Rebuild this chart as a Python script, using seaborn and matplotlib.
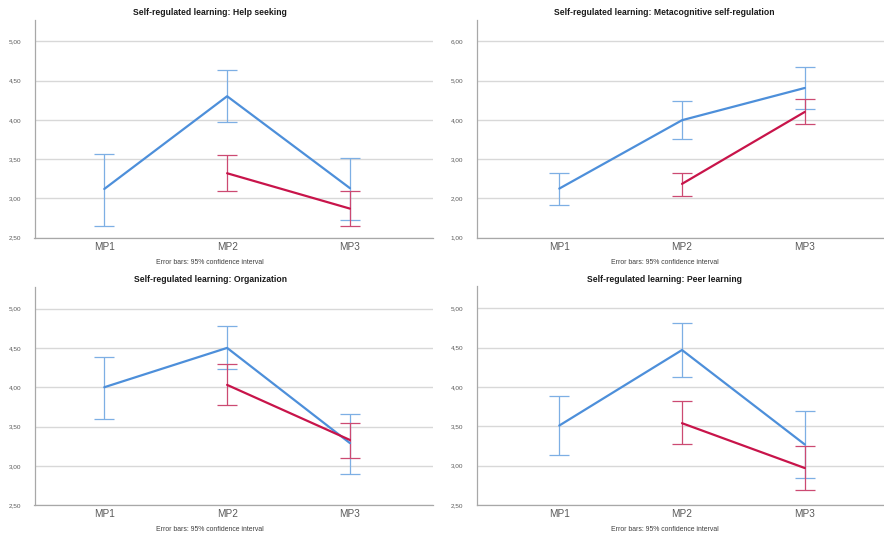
import numpy as np
import pandas as pd
import matplotlib
matplotlib.use("Agg")
import matplotlib.pyplot as plt
import seaborn as sns

# ---- data -----------------------------------------------------------------
periods = ["MP1", "MP2", "MP3"]
groups = ["Group A", "Group B"]

titles = [
    "Self-regulated learning: Help seeking",
    "Self-regulated learning: Metacognitive self-regulation",
    "Self-regulated learning: Organization",
    "Self-regulated learning: Peer learning",
]

# Help seeking
help_a_mean = [3.12, 4.30, 3.13]
help_a_lo = [2.65, 3.97, 2.73]
help_a_hi = [3.57, 4.64, 3.52]
help_b_mean = [np.nan, 3.32, 2.87]
help_b_lo = [np.nan, 3.10, 2.645]
help_b_hi = [np.nan, 3.55, 3.10]

# Metacognitive self-regulation
meta_a_mean = [2.25, 3.99, 4.81]
meta_a_lo = [1.82, 3.50, 4.28]
meta_a_hi = [2.65, 4.49, 5.35]
meta_b_mean = [np.nan, 2.37, 4.20]
meta_b_lo = [np.nan, 2.07, 3.90]
meta_b_hi = [np.nan, 2.65, 4.52]

# Organization
org_a_mean = [4.00, 4.50, 3.29]
org_a_lo = [3.60, 4.23, 2.90]
org_a_hi = [4.39, 4.78, 3.66]
org_b_mean = [np.nan, 4.03, 3.33]
org_b_lo = [np.nan, 3.77, 3.10]
org_b_hi = [np.nan, 4.30, 3.55]

# Peer learning
peer_a_mean = [3.51, 4.47, 3.27]
peer_a_lo = [3.14, 4.13, 2.84]
peer_a_hi = [3.89, 4.81, 3.69]
peer_b_mean = [np.nan, 3.54, 2.97]
peer_b_lo = [np.nan, 3.27, 2.69]
peer_b_hi = [np.nan, 3.82, 3.25]

# y-axis tick values per panel
help_ticks = [2.5, 3.0, 3.5, 4.0, 4.5, 5.0]
meta_ticks = [1.0, 2.0, 3.0, 4.0, 5.0, 6.0]
org_ticks = [2.5, 3.0, 3.5, 4.0, 4.5, 5.0]
peer_ticks = [2.5, 3.0, 3.5, 4.0, 4.5, 5.0]

note = "Error bars: 95% confidence interval"

# ---- styling --------------------------------------------------------------
sns.set_theme(style="white")
plt.rcParams["font.family"] = ["Liberation Sans", "DejaVu Sans"]

line_colors = {groups[0]: "#4D8FDA", groups[1]: "#C8144A"}
err_colors = {groups[0]: "#7DAFE4", groups[1]: "#CC4A72"}

W, H = 884, 538
fig = plt.figure(figsize=(W / 100, H / 100), dpi=100)
fig.patch.set_facecolor("white")


def frac_box(left, top, right, bottom):
    return [left / W, 1 - bottom / H, (right - left) / W, (bottom - top) / H]


def build_frame(a_mean, a_lo, a_hi, b_mean, b_lo, b_hi):
    rows = []
    for g, (m, lo, hi) in zip(groups, [(a_mean, a_lo, a_hi), (b_mean, b_lo, b_hi)]):
        for i, p in enumerate(periods):
            if not np.isnan(m[i]):
                rows.append({"period": p, "pos": i, "group": g,
                             "mean": m[i], "lo": lo[i], "hi": hi[i]})
    return pd.DataFrame(rows)


panels = [
    dict(box=(34.5, 20, 433, 237.7), xlim=(-0.568, 2.676), ylim=(2.5, 5.27),
         ticks=help_ticks, data=(help_a_mean, help_a_lo, help_a_hi, help_b_mean, help_b_lo, help_b_hi),
         title=titles[0], tx=210, ty=12.7, ny=262),
    dict(box=(476.7, 20, 884, 237.7), xlim=(-0.673, 2.646), ylim=(1.0, 6.54),
         ticks=meta_ticks, data=(meta_a_mean, meta_a_lo, meta_a_hi, meta_b_mean, meta_b_lo, meta_b_hi),
         title=titles[1], tx=664.7, ty=12.7, ny=262),
    dict(box=(34.5, 287.3, 433, 505.3), xlim=(-0.568, 2.676), ylim=(2.5, 5.27),
         ticks=org_ticks, data=(org_a_mean, org_a_lo, org_a_hi, org_b_mean, org_b_lo, org_b_hi),
         title=titles[2], tx=210, ty=280, ny=529.5),
    dict(box=(476.7, 286.3, 884, 505), xlim=(-0.673, 2.646), ylim=(2.5, 5.28),
         ticks=peer_ticks, data=(peer_a_mean, peer_a_lo, peer_a_hi, peer_b_mean, peer_b_lo, peer_b_hi),
         title=titles[3], tx=664.7, ty=280, ny=529.5),
]

for pnl in panels:
    ax = fig.add_axes(frac_box(*pnl["box"]))
    df = build_frame(*pnl["data"])

    # confidence-interval bars
    for g in groups:
        sub = df[df["group"] == g]
        ax.errorbar(sub["pos"], sub["mean"],
                    yerr=[sub["mean"] - sub["lo"], sub["hi"] - sub["mean"]],
                    fmt="none", ecolor=err_colors[g], elinewidth=0.9,
                    capsize=7.2, capthick=0.9, zorder=3)

    # group means
    sns.lineplot(data=df, x="pos", y="mean", hue="group", hue_order=groups,
                 palette=line_colors, errorbar=None, legend=False,
                 linewidth=1.6, ax=ax, zorder=4)

    ax.set_xlim(*pnl["xlim"])
    ax.set_ylim(*pnl["ylim"])
    ax.set_xticks(range(len(periods)))
    ax.set_xticklabels(periods)
    ax.set_yticks(pnl["ticks"])
    ax.set_yticklabels([f"{t:.2f}".replace(".", ",") for t in pnl["ticks"]])
    ax.set_xlabel("")
    ax.set_ylabel("")

    ax.grid(axis="y", color="#D8D8D8", linewidth=1.0)
    ax.set_axisbelow(True)
    for side in ("top", "right"):
        ax.spines[side].set_visible(False)
    for side in ("left", "bottom"):
        ax.spines[side].set_color("#A8A8A8")
        ax.spines[side].set_linewidth(0.9)

    ax.tick_params(axis="y", length=0, pad=9.5, labelsize=4.6, labelcolor="#5A5A5A")
    ax.tick_params(axis="x", length=0, pad=3.0, labelsize=7.2, labelcolor="#595959")

    fig.text(pnl["tx"] / W, 1 - pnl["ty"] / H, pnl["title"], ha="center", va="center",
             fontsize=6.2, fontweight="bold", color="#1A1A1A")
    fig.text(pnl["tx"] / W, 1 - pnl["ny"] / H, note, ha="center", va="center",
             fontsize=4.95, color="#404040")

fig.savefig("out.png", dpi=100, facecolor="white")
